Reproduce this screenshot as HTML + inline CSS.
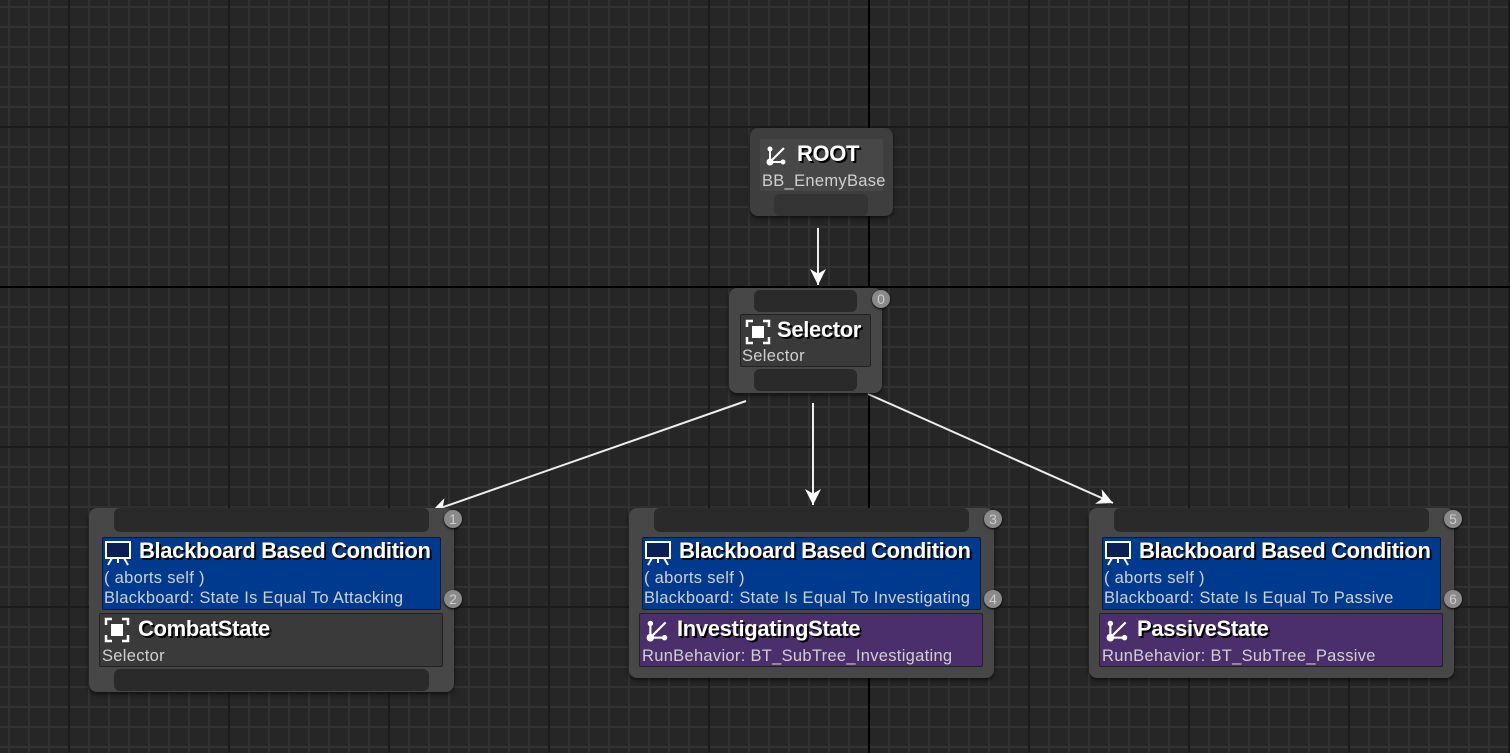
<!DOCTYPE html>
<html><head><meta charset="utf-8"><style>
*{margin:0;padding:0;box-sizing:border-box}
body{width:1510px;height:753px;overflow:hidden;position:relative;background-color:#262626;
background-image:linear-gradient(90deg,#1b1b1b 2px,transparent 2px),linear-gradient(#1b1b1b 2px,transparent 2px),linear-gradient(90deg,#323232 2px,transparent 2px),linear-gradient(#323232 2px,transparent 2px);
background-size:160px 160px,160px 160px,20px 20px,20px 20px;
background-position:68px 0,0 126px,8px 0,0 6px;
font-family:"Liberation Sans",sans-serif;color:#fff}
.a{position:absolute}
.node{position:absolute;background:#474747;border-radius:8px;box-shadow:0 2px 4px rgba(0,0,0,.6)}
.bar{position:absolute;background:#2a2a2a;border-radius:6px}
.t{position:absolute;font-weight:bold;font-size:22px;white-space:nowrap;text-shadow:2px 2px 0 #000;letter-spacing:-0.35px}
.s{position:absolute;font-size:16.5px;color:#d0d0d0;white-space:nowrap;letter-spacing:0.3px}
.bb{position:absolute;background:#003a8e;border:1px solid #111a33;border-radius:2px}
.pu{position:absolute;background:#4a2f6c;border:1px solid #222;border-radius:2px}
.gr{position:absolute;background:#3a3a3a;border:1px solid #222;border-radius:2px}
.badge{position:absolute;width:18px;height:18px;border-radius:50%;background:#8a8a8a;color:#ccc;font-size:14px;text-align:center;line-height:18px;box-shadow:0 1px 2px #000}
</style></head><body>
<div class="a" style="left:868px;top:0;width:2px;height:753px;background:#000"></div>
<div class="a" style="left:0;top:286px;width:1510px;height:2px;background:#000"></div>

<svg class="a" style="left:0;top:0" width="1510" height="753">
<defs><marker id="ar" markerWidth="16" markerHeight="16" refX="14" refY="7" orient="auto" markerUnits="userSpaceOnUse" viewBox="0 0 14 14"><path d="M0,0 L14,7 L0,14 L4,7 z" fill="#fff"/></marker></defs>
<g stroke="#eee" stroke-width="2" fill="none">
<line x1="818" y1="228" x2="818" y2="285" marker-end="url(#ar)" />
<line x1="746" y1="401" x2="432" y2="511" marker-end="url(#ar)"/>
<line x1="813" y1="403" x2="813" y2="505" marker-end="url(#ar)"/>
<line x1="868" y1="394" x2="1113" y2="503" marker-end="url(#ar)"/>
</g></svg>

<div class="node" style="left:750px;top:128px;width:143px;height:88px;background:#3e3e3e">
 <div class="a" style="left:10px;top:11px;width:123px;height:52px;background:#474747;border-radius:2px"></div>
 <div class="bar" style="left:24px;top:66px;width:94px;height:22px;background:#343434"></div>
 <svg class="a" style="left:16px;top:16px" width="22" height="22" viewBox="0 0 22 22"><g stroke="#fff" stroke-width="2" fill="#fff"><line x1="4" y1="18" x2="4" y2="4"/><line x1="4" y1="18" x2="18" y2="4"/><line x1="4" y1="18" x2="16" y2="18"/><circle cx="4" cy="18" r="2.5"/><circle cx="4" cy="5" r="1.5"/><circle cx="17" cy="18" r="1.5"/></g></svg>
 <div class="t" style="left:47px;top:13px">ROOT</div>
 <div class="s" style="left:12px;top:44px">BB_EnemyBase</div>
</div>

<div class="node" style="left:729px;top:288px;width:153px;height:105px">
 <div class="bar" style="left:25px;top:2px;width:103px;height:22px"></div>
 <div class="gr" style="left:11px;top:26px;width:131px;height:53px"></div>
 <div class="bar" style="left:25px;top:81px;width:103px;height:22px"></div>
 <svg class="a" style="left:16px;top:31px" width="26" height="26" viewBox="0 0 26 26"><g stroke="#fff" stroke-width="2.5" fill="none"><path d="M2,8V2H8M18,2H24V8M24,18V24H18M8,24H2V18"/></g><rect x="7" y="7" width="12" height="12" fill="#fff"/></svg>
 <div class="t" style="left:48px;top:29px">Selector</div>
 <div class="s" style="left:13px;top:59px">Selector</div>
</div>
<div class="badge" style="left:872px;top:290px">0</div>

<div class="node" style="left:89px;top:508px;width:365px;height:184px">
 <div class="bar" style="left:25px;top:0;width:315px;height:24px"></div>
 <div class="bb" style="left:13px;top:29px;width:339px;height:73px"></div>
 <div class="gr" style="left:10px;top:105px;width:344px;height:54px"></div>
 <div class="bar" style="left:25px;top:161px;width:315px;height:22px"></div>
</div>
<div class="node" style="left:629px;top:508px;width:365px;height:170px">
 <div class="bar" style="left:25px;top:0;width:315px;height:24px"></div>
 <div class="bb" style="left:13px;top:29px;width:339px;height:73px"></div>
 <div class="pu" style="left:10px;top:105px;width:344px;height:54px"></div>
</div>
<div class="node" style="left:1089px;top:508px;width:365px;height:170px">
 <div class="bar" style="left:25px;top:0;width:315px;height:24px"></div>
 <div class="bb" style="left:13px;top:29px;width:339px;height:73px"></div>
 <div class="pu" style="left:10px;top:105px;width:344px;height:54px"></div>
</div>

<svg class="a" style="left:104px;top:540px" width="28" height="26" viewBox="0 0 28 26"><rect x="2" y="2" width="24" height="16" fill="#0a1f55" stroke="#fff" stroke-width="2"/><g stroke="#fff" stroke-width="2"><line x1="8" y1="18" x2="4" y2="25"/><line x1="20" y1="18" x2="24" y2="25"/><line x1="14" y1="18" x2="14" y2="23"/></g></svg>
<svg class="a" style="left:644px;top:540px" width="28" height="26" viewBox="0 0 28 26"><rect x="2" y="2" width="24" height="16" fill="#0a1f55" stroke="#fff" stroke-width="2"/><g stroke="#fff" stroke-width="2"><line x1="8" y1="18" x2="4" y2="25"/><line x1="20" y1="18" x2="24" y2="25"/><line x1="14" y1="18" x2="14" y2="23"/></g></svg>
<svg class="a" style="left:1104px;top:540px" width="28" height="26" viewBox="0 0 28 26"><rect x="2" y="2" width="24" height="16" fill="#0a1f55" stroke="#fff" stroke-width="2"/><g stroke="#fff" stroke-width="2"><line x1="8" y1="18" x2="4" y2="25"/><line x1="20" y1="18" x2="24" y2="25"/><line x1="14" y1="18" x2="14" y2="23"/></g></svg>

<div class="t" style="left:139px;top:538px">Blackboard Based Condition</div>
<div class="s" style="left:104px;top:569px">( aborts self )</div>
<div class="s" style="left:104px;top:589px">Blackboard: State Is Equal To Attacking</div>
<div class="t" style="left:679px;top:538px">Blackboard Based Condition</div>
<div class="s" style="left:644px;top:569px">( aborts self )</div>
<div class="s" style="left:644px;top:589px">Blackboard: State Is Equal To Investigating</div>
<div class="t" style="left:1139px;top:538px">Blackboard Based Condition</div>
<div class="s" style="left:1104px;top:569px">( aborts self )</div>
<div class="s" style="left:1104px;top:589px">Blackboard: State Is Equal To Passive</div>

<svg class="a" style="left:104px;top:617px" width="26" height="26" viewBox="0 0 26 26"><g stroke="#fff" stroke-width="2.5" fill="none"><path d="M2,8V2H8M18,2H24V8M24,18V24H18M8,24H2V18"/></g><rect x="7" y="7" width="12" height="12" fill="#fff"/></svg>
<div class="t" style="left:138px;top:616px">CombatState</div>
<div class="s" style="left:102px;top:647px">Selector</div>

<svg class="a" style="left:646px;top:618px" width="24" height="24" viewBox="0 0 22 22"><g stroke="#fff" stroke-width="2" fill="#fff"><line x1="4" y1="18" x2="4" y2="4"/><line x1="4" y1="18" x2="18" y2="4"/><line x1="4" y1="18" x2="16" y2="18"/><circle cx="4" cy="18" r="2.5"/><circle cx="4" cy="5" r="1.5"/><circle cx="17" cy="18" r="1.5"/></g></svg>
<div class="t" style="left:677px;top:616px">InvestigatingState</div>
<div class="s" style="left:642px;top:647px">RunBehavior: BT_SubTree_Investigating</div>

<svg class="a" style="left:1106px;top:618px" width="24" height="24" viewBox="0 0 22 22"><g stroke="#fff" stroke-width="2" fill="#fff"><line x1="4" y1="18" x2="4" y2="4"/><line x1="4" y1="18" x2="18" y2="4"/><line x1="4" y1="18" x2="16" y2="18"/><circle cx="4" cy="18" r="2.5"/><circle cx="4" cy="5" r="1.5"/><circle cx="17" cy="18" r="1.5"/></g></svg>
<div class="t" style="left:1137px;top:616px">PassiveState</div>
<div class="s" style="left:1102px;top:647px">RunBehavior: BT_SubTree_Passive</div>

<div class="badge" style="left:444px;top:510px">1</div>
<div class="badge" style="left:444px;top:590px">2</div>
<div class="badge" style="left:984px;top:510px">3</div>
<div class="badge" style="left:984px;top:590px">4</div>
<div class="badge" style="left:1444px;top:510px">5</div>
<div class="badge" style="left:1444px;top:590px">6</div>
</body></html>
